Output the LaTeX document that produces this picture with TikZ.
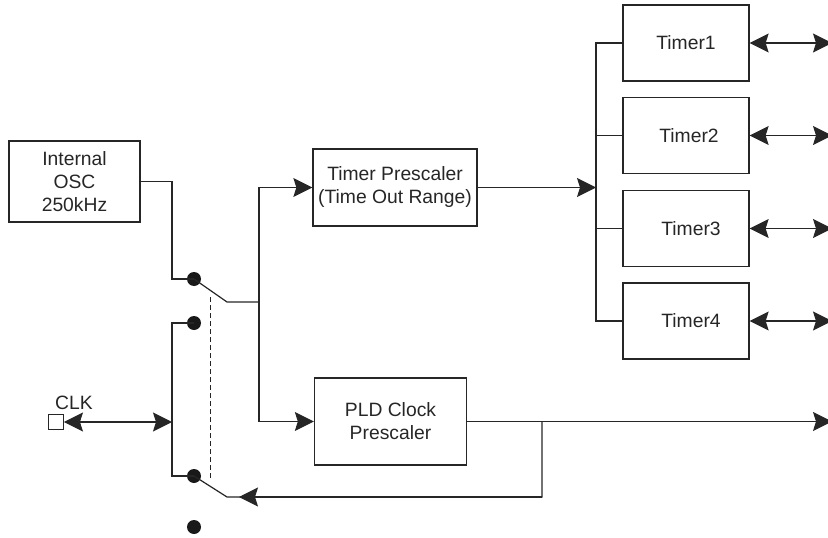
\documentclass[tikz,border=0pt]{standalone}
\usepackage{fontspec}
\setmainfont{Liberation Sans}
\usetikzlibrary{arrows.meta}
\begin{document}
\begin{tikzpicture}[x=1pt,y=-1pt,
 line/.style={line width=1.2pt, draw=black!85},
 blk/.style={draw=black!85, line width=1.3pt, rectangle, inner sep=0pt, align=center, font=\fontsize{19.3}{23}\selectfont, text=black!85},
 arr/.style={-{Stealth[length=19pt,width=19pt,inset=3pt]}},
 darr/.style={{Stealth[length=19pt,width=19pt,inset=3pt]}-{Stealth[length=19pt,width=19pt,inset=3pt]}},
 dot/.style={circle, fill=black!90, inner sep=0pt, minimum size=14pt},
 lbl/.style={font=\fontsize{19.3}{23}\selectfont, text=black!85, inner sep=0pt}]
\useasboundingbox (0,0) rectangle (828,538);
% blocks
\node[blk, minimum width=131pt, minimum height=81pt] (osc) at (74.5,181.5) {Internal\\OSC\\250kHz};
\node[blk, minimum width=164pt, minimum height=77pt] (tp) at (395,187.5) {Timer Prescaler\\(Time Out Range)};
\node[blk, minimum width=152pt, minimum height=87pt] (pld) at (390.5,421.5) {PLD Clock\\Prescaler};
\node[blk, minimum width=126pt, minimum height=76pt] (t1) at (686,43) {Timer1};
\node[blk, minimum width=126pt, minimum height=76pt] (t2) at (686,135.5) {\hspace*{6pt}Timer2};
\node[blk, minimum width=126pt, minimum height=76pt] (t3) at (686,228.5) {\hspace*{10pt}Timer3};
\node[blk, minimum width=126pt, minimum height=76pt] (t4) at (686,321) {\hspace*{10pt}Timer4};
% switch contacts
\node[dot] (d1) at (194,279) {};
\node[dot] (d2) at (194,323) {};
\node[dot] (d3) at (194,476) {};
\node[dot] (d4) at (194,527) {};
% CLK pin
\node[draw=black!85, line width=0.9pt, minimum size=15pt, inner sep=0pt] (clk) at (56,422) {};
\node[lbl] (clklbl) at (74,403) {CLK};
% helper coordinates
\coordinate (oscbend) at (172,279);
\coordinate (sw1) at (227,302);
\coordinate (j1) at (259,302);
\coordinate (l2) at (172,323);
\coordinate (l3) at (172,476);
\coordinate (sw2) at (227,497);
\coordinate (tip2) at (239,497);
\coordinate (fb) at (542,497);
\coordinate (bus) at (596,43);
\coordinate (edge) at (832,0);
\coordinate (dashtop) at (210,297);
\coordinate (dashbot) at (210,479);
% OSC to switch
\draw[line] (osc.east) -| (oscbend) -- (d1.center);
\draw[line] (d1.center) -- (sw1) -- (j1);
\draw[line,arr] (j1) |- (tp.west);
\draw[line,arr] (j1) |- (pld.west);
% timer bus
\draw[line,arr] (tp.east) -- (tp.east -| bus);
\draw[line] (t1.west) -- (t1.west -| bus) -- (t4.west -| bus) -- (t4.west);
\draw[line] (t2.west) -- (t2.west -| bus);
\draw[line] (t3.west) -- (t3.west -| bus);
\draw[line,darr] (t1.east) -- (t1.east -| edge);
\draw[line,darr] (t2.east) -- (t2.east -| edge);
\draw[line,darr] (t3.east) -- (t3.east -| edge);
\draw[line,darr] (t4.east) -- (t4.east -| edge);
% CLK side
\draw[line] (d2.center) -- (l2) -- (l3) -- (d3.center);
\draw[line,darr] (clk.east) -- (clk.east -| l2);
\draw[line, line width=1pt, dash pattern=on 5pt off 3pt] (dashtop) -- (dashbot);
% PLD output and feedback
\draw[line,arr] (pld.east) -- (pld.east -| edge);
\draw[line] (d3.center) -- (sw2) -- (fb) -- (pld.east -| fb);
\draw[line,arr] (fb) -- (tip2);
\end{tikzpicture}
\end{document}
